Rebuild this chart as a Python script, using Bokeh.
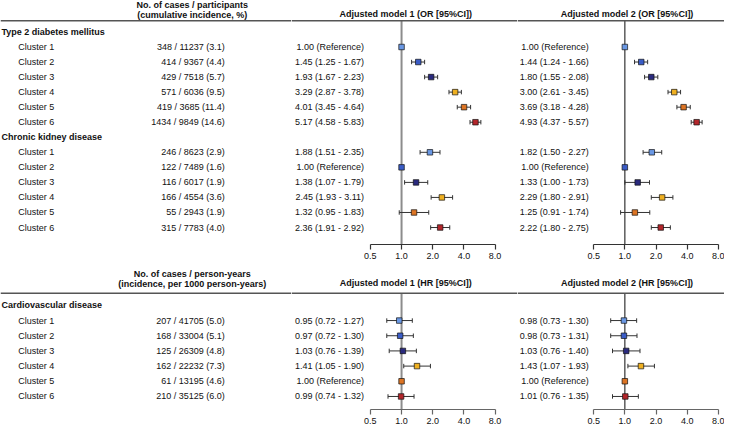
import numpy as np
from bokeh.plotting import figure
from bokeh.models import Range1d, LinearScale, FixedTicker, PrintfTickFormatter, Span
from bokeh.layouts import row, column
from bokeh.core.properties import value
from bokeh.embed import file_html
from bokeh.resources import INLINE

# ---------------- data ----------------
clusters = ["Cluster 1", "Cluster 2", "Cluster 3", "Cluster 4", "Cluster 5", "Cluster 6"]
cluster_colors = ["#6a98e4", "#3a5cc6", "#2a2a7e", "#efb021", "#dc7424", "#b3262b"]

t2dm_cases = ["348 / 11237 (3.1)", "414 / 9367 (4.4)", "429 / 7518 (5.7)",
              "571 / 6036 (9.5)", "419 / 3685 (11.4)", "1434 / 9849 (14.6)"]
t2dm_m1_est = [1.00, 1.45, 1.93, 3.29, 4.01, 5.17]
t2dm_m1_lo = [np.nan, 1.25, 1.67, 2.87, 3.45, 4.58]
t2dm_m1_hi = [np.nan, 1.67, 2.23, 3.78, 4.64, 5.83]
t2dm_m2_est = [1.00, 1.44, 1.80, 3.00, 3.69, 4.93]
t2dm_m2_lo = [np.nan, 1.24, 1.55, 2.61, 3.18, 4.37]
t2dm_m2_hi = [np.nan, 1.66, 2.08, 3.45, 4.28, 5.57]

ckd_cases = ["246 / 8623 (2.9)", "122 / 7489 (1.6)", "116 / 6017 (1.9)",
             "166 / 4554 (3.6)", "55 / 2943 (1.9)", "315 / 7783 (4.0)"]
ckd_m1_est = [1.88, 1.00, 1.38, 2.45, 1.32, 2.36]
ckd_m1_lo = [1.51, np.nan, 1.07, 1.93, 0.95, 1.91]
ckd_m1_hi = [2.35, np.nan, 1.79, 3.11, 1.83, 2.92]
ckd_m2_est = [1.82, 1.00, 1.33, 2.29, 1.25, 2.22]
ckd_m2_lo = [1.50, np.nan, 1.00, 1.80, 0.91, 1.80]
ckd_m2_hi = [2.27, np.nan, 1.73, 2.91, 1.74, 2.75]

cvd_cases = ["207 / 41705 (5.0)", "168 / 33004 (5.1)", "125 / 26309 (4.8)",
             "162 / 22232 (7.3)", "61 / 13195 (4.6)", "210 / 35125 (6.0)"]
cvd_m1_est = [0.95, 0.97, 1.03, 1.41, 1.00, 0.99]
cvd_m1_lo = [0.72, 0.72, 0.76, 1.05, np.nan, 0.74]
cvd_m1_hi = [1.27, 1.30, 1.39, 1.90, np.nan, 1.32]
cvd_m2_est = [0.98, 0.98, 1.03, 1.43, 1.00, 1.01]
cvd_m2_lo = [0.73, 0.73, 0.76, 1.07, np.nan, 0.76]
cvd_m2_hi = [1.30, 1.31, 1.40, 1.93, np.nan, 1.35]

tick_values = [0.5, 1.0, 2.0, 4.0, 8.0]
null_value = 1.0

top_sections = [
    ("Type 2 diabetes mellitus", t2dm_cases,
     (t2dm_m1_est, t2dm_m1_lo, t2dm_m1_hi), (t2dm_m2_est, t2dm_m2_lo, t2dm_m2_hi)),
    ("Chronic kidney disease", ckd_cases,
     (ckd_m1_est, ckd_m1_lo, ckd_m1_hi), (ckd_m2_est, ckd_m2_lo, ckd_m2_hi)),
]
bottom_sections = [
    ("Cardiovascular disease", cvd_cases,
     (cvd_m1_est, cvd_m1_lo, cvd_m1_hi), (cvd_m2_est, cvd_m2_lo, cvd_m2_hi)),
]

# ---------------- layout / style ----------------
FONT = value("Liberation Sans")
FS = "9px"
TXT = "#111111"

W_PX = [291, 226, 207]
SX = sum(W_PX) / 736.0
bounds = [4.0]
for w in W_PX:
    bounds.append(bounds[-1] + w / SX)

C1, C2, K = 411.7, 638.7, 31.7
STEP = 15.6
CAP = 2.3


def log_range(x0, x1, c):
    return Range1d(2 ** ((x0 - c) / K), 2 ** ((x1 - c) / K))


def fmt(e, lo, hi):
    if np.isnan(lo):
        return "%.2f (Reference)" % e
    return "%.2f (%.2f - %.2f)" % (e, lo, hi)


def txt(p, xs, ys, texts, align, bold=False, rn="default"):
    p.text(x=xs, y=ys, text=texts, text_align=align, text_baseline="middle",
           text_font=FONT, text_font_size=FS, text_color=TXT,
           text_font_style="bold" if bold else "normal", x_range_name=rn)


def forest(p, est, lo, hi, ys, cols, ref_color, ref_width, y0, y1):
    p.segment(x0=[null_value], y0=[y0], x1=[null_value], y1=[y1],
              line_color=ref_color, line_width=ref_width)
    est, lo, hi, ys = map(np.asarray, (est, lo, hi, ys))
    m = ~np.isnan(lo)
    p.segment(x0=lo[m], y0=ys[m], x1=hi[m], y1=ys[m], line_color="#333333", line_width=1)
    p.segment(x0=lo[m], y0=ys[m] - CAP, x1=lo[m], y1=ys[m] + CAP, line_color="#333333", line_width=1)
    p.segment(x0=hi[m], y0=ys[m] - CAP, x1=hi[m], y1=ys[m] + CAP, line_color="#333333", line_width=1)
    p.scatter(x=est, y=ys, marker="square", size=5.5, fill_color=list(cols),
              line_color="#111111", line_width=0.7)


def style_axis(p, color):
    ax = p.xaxis[0]
    ax.ticker = FixedTicker(ticks=tick_values)
    ax.formatter = PrintfTickFormatter(format="%.1f")
    ax.bounds = (tick_values[0], tick_values[-1])
    ax.axis_line_color = color
    ax.axis_line_width = 1.2
    ax.major_tick_line_color = color
    ax.major_tick_line_width = 1.2
    ax.major_tick_out = 5
    ax.major_tick_in = 0
    ax.minor_tick_out = 0
    ax.minor_tick_in = 0
    ax.major_label_standoff = 3
    ax.major_label_text_font = "Liberation Sans"
    ax.major_label_text_font_size = FS
    ax.major_label_text_color = TXT


def panel(y_top, y_axis, frame_px, border_px, rule_y, head_lines, head_ys,
          model_heads, model_head_y, sections, first_y, axis_color):
    common = dict(height=frame_px + border_px, output_backend="svg", toolbar_location=None,
                  min_border_left=0, min_border_right=0, min_border_top=0,
                  min_border_bottom=border_px)

    a = figure(width=W_PX[0], x_range=Range1d(bounds[0], bounds[1]),
               y_range=Range1d(y_axis, y_top), x_axis_location=None, y_axis_location=None, **common)
    b = figure(width=W_PX[1], x_range=log_range(bounds[1], bounds[2], C1), x_axis_type="log",
               y_range=Range1d(y_axis, y_top), y_axis_location=None, **common)
    d = figure(width=W_PX[2], x_range=log_range(bounds[2], bounds[3], C2), x_axis_type="log",
               y_range=Range1d(y_axis, y_top), y_axis_location=None, **common)
    for p, (x0, x1) in ((b, (bounds[1], bounds[2])), (d, (bounds[2], bounds[3]))):
        p.extra_x_ranges = {"lin": Range1d(x0, x1)}
        p.extra_x_scales = {"lin": LinearScale()}
    for p in (a, b, d):
        p.outline_line_color = None
        p.grid.visible = False
        p.background_fill_color = "white"
        p.border_fill_color = "white"
        p.add_layout(Span(location=rule_y, dimension="width", line_color="#555555", line_width=1.5))

    # headers
    txt(a, [199] * len(head_lines), head_ys, head_lines, "center", bold=True)
    txt(b, [416], [model_head_y], [model_heads[0]], "center", bold=True, rn="lin")
    txt(d, [641], [model_head_y], [model_heads[1]], "center", bold=True, rn="lin")

    sec_y, sec_lab = [], []
    ys, labs, cases, cols = [], [], [], []
    m1 = [[], [], []]
    m2 = [[], [], []]
    for si, (name, cs, r1, r2) in enumerate(sections):
        base = first_y + STEP * si * 7
        sec_y.append(base)
        sec_lab.append(name)
        for i in range(len(clusters)):
            ys.append(base + STEP * (i + 1))
            labs.append(clusters[i])
            cases.append(cs[i])
            cols.append(cluster_colors[i])
            for k in range(3):
                m1[k].append(r1[k][i])
                m2[k].append(r2[k][i])

    txt(a, [5] * len(sec_y), sec_y, sec_lab, "left", bold=True)
    txt(a, [22] * len(ys), ys, labs, "left")
    txt(a, [232] * len(ys), ys, cases, "right")
    txt(b, [373.5] * len(ys), ys, [fmt(*v) for v in zip(*m1)], "right", rn="lin")
    txt(d, [602] * len(ys), ys, [fmt(*v) for v in zip(*m2)], "right", rn="lin")

    forest(b, m1[0], m1[1], m1[2], ys, cols, "#8c8c8c", 2, rule_y, y_axis)
    forest(d, m2[0], m2[1], m2[2], ys, cols, "#333333", 1.2, rule_y, y_axis)
    style_axis(b, axis_color)
    style_axis(d, axis_color)
    return row(a, b, d)


top = panel(0, 253, 244, 20, 21,
            ["No. of cases / participants", "(cumulative incidence, %)"], [5, 15.5],
            ["Adjusted model 1 (OR [95%CI])", "Adjusted model 2 (OR [95%CI])"], 14,
            top_sections, 32.6, "#333333")
bottom = panel(278, 427, 145, 19, 307.5,
               ["No. of cases / person-years", "(incidence, per 1000 person-years)"], [288, 298.5],
               ["Adjusted model 1 (HR [95%CI])", "Adjusted model 2 (HR [95%CI])"], 297.5,
               bottom_sections, 320, "#666666")

layout = column(top, bottom)
open("out.html", "w").write(file_html(layout, INLINE))
